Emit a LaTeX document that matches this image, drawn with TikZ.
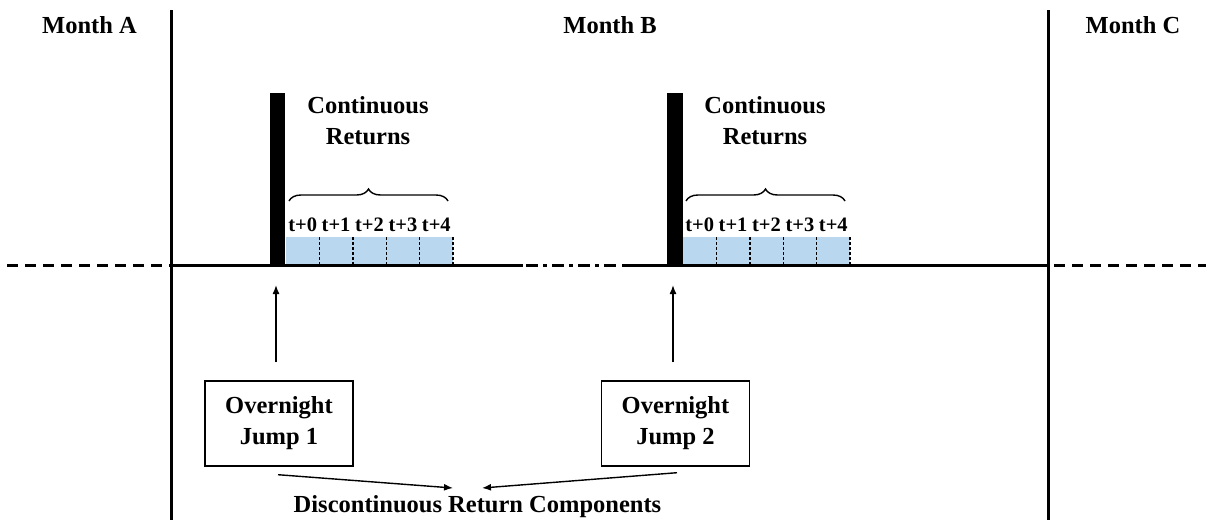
\documentclass[tikz,border=0pt]{standalone}
\usepackage{fontspec}
\setmainfont{Liberation Serif}
\usetikzlibrary{arrows.meta,decorations.pathreplacing}
\begin{document}
\begin{tikzpicture}[x=1pt,y=-1pt,
  lbl/.style={font=\fontsize{24.5}{30}\selectfont\bfseries, inner sep=0pt, align=center},
  tlbl/.style={font=\fontsize{20.5}{24}\selectfont\bfseries, inner sep=0pt},
  mainline/.style={line width=3pt},
  jumpbox/.style={draw, line width=1.4pt, minimum width=148pt, minimum height=85pt, align=center, font=\fontsize{24.5}{31}\selectfont\bfseries},
  arr/.style={line width=1.4pt, -{Latex[length=9pt,width=7pt]}},
  cellfill/.style={fill={rgb,255:red,185;green,215;blue,238}},
  divider/.style={line width=1.4pt, dash pattern=on 2.5pt off 2.5pt},
  brc/.style={line width=1.4pt, decorate, decoration={brace, amplitude=12pt}}
]
\useasboundingbox (0,0) rectangle (1206,520);
% month headers
\node[lbl] (ma) at (89.5,25) {Month A};
\node[lbl] (mb) at (610,25) {Month B};
\node[lbl] (mc) at (1133,25) {Month C};
% month separators
\draw[mainline] (171,10) -- (171,520);
\draw[mainline] (1048,10) -- (1048,520);
% blue cells
\foreach \xs/\n in {286/1,683/2}{
  \fill[cellfill] (\xs,237) rectangle ++(167,28);
  \foreach \k in {1,...,5}{
    \draw[divider] ({\xs+\k*33.4},237) -- ({\xs+\k*33.4},265);
    \node[tlbl] at ({\xs+(\k-0.5)*33.4},225) {t+\the\numexpr\k-1\relax};
  }
}
% time line
\draw[mainline, dash pattern=on 11pt off 7pt] (7,265) -- (171,265);
\draw[mainline] (171,265) -- (523,265);
\draw[mainline, dash pattern=on 12pt off 5pt on 4pt off 5pt] (526,265) -- (620,265);
\draw[mainline] (622,265) -- (1048,265);
\draw[mainline, dash pattern=on 11pt off 7pt] (1054,265) -- (1206,265);
% jump bars
\fill (270,93) rectangle (285,266);
\fill (667,93) rectangle (683,266);
\coordinate (j1) at (276,285);
\coordinate (j2) at (673,285);
% braces and labels
\draw[brc] (289,201) -- (448,201);
\draw[brc] (686,201) -- (845,201);
\node[lbl] (c1) at (368,121) {Continuous\\[1pt]Returns};
\node[lbl] (c2) at (765,121) {Continuous\\[1pt]Returns};
% boxes
\node[jumpbox] (b1) at (279,423.5) {Overnight\\Jump 1};
\node[jumpbox] (b2) at (675.5,423.5) {Overnight\\Jump 2};
\draw[arr] ([yshift=18pt]b1.north -| j1) -- (j1);
\draw[arr] ([yshift=18pt]b2.north -| j2) -- (j2);
% discontinuous label
\node[lbl] (dc) at (477.5,507) {Discontinuous Return Components};
\coordinate (t1) at (453,488);
\coordinate (t2) at (482,488);
\draw[arr] ([yshift=-8pt]b1.south -| 278,0) -- (t1);
\draw[arr] ([yshift=-6pt]b2.south -| 677,0) -- (t2);
\end{tikzpicture}
\end{document}
